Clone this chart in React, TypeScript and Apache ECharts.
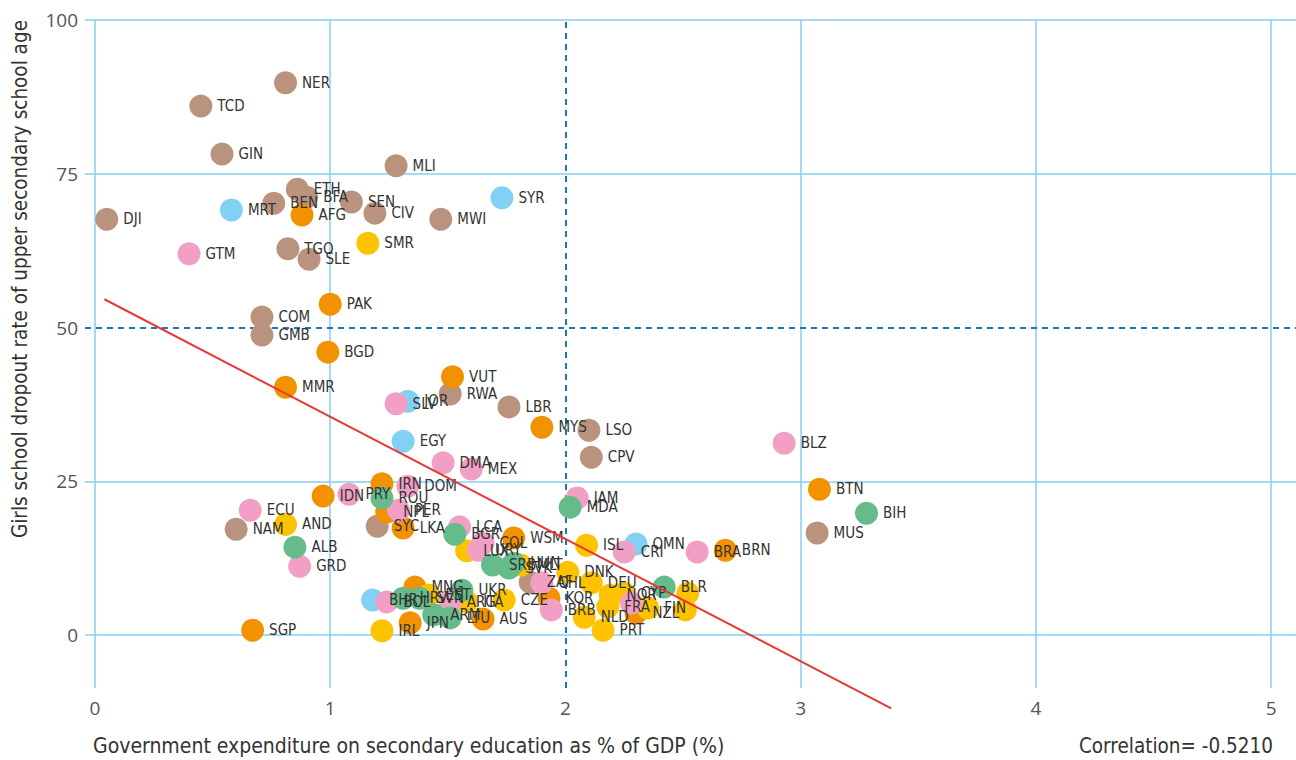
import React, { useEffect, useRef } from 'react';
import * as echarts from 'echarts';

// ---- Data ----
const xTicks = [0, 1, 2, 3, 4, 5];
const yTicks = [0, 25, 50, 75, 100];
const xTitle = 'Government expenditure on secondary education as % of GDP (%)';
const yTitle = 'Girls school dropout rate of upper secondary school age';
const correlationText = 'Correlation= -0.5210';

// [x: expenditure % GDP, y: dropout rate, country code]
const subSaharanAfrica = [
  [0.81, 89.8, 'NER'], [0.45, 86.0, 'TCD'], [0.54, 78.2, 'GIN'], [1.28, 76.3, 'MLI'],
  [0.86, 72.5, 'ETH'], [0.9, 71.2, 'BFA'], [0.76, 70.2, 'BEN'], [1.09, 70.4, 'SEN'],
  [1.19, 68.6, 'CIV'], [1.47, 67.6, 'MWI'], [0.05, 67.6, 'DJI'], [0.82, 62.8, 'TGO'],
  [0.91, 61.1, 'SLE'], [0.71, 51.7, 'COM'], [0.71, 48.8, 'GMB'], [1.51, 39.2, 'RWA'],
  [1.76, 37.1, 'LBR'], [2.1, 33.3, 'LSO'], [2.11, 28.9, 'CPV'], [3.07, 16.6, 'MUS'],
  [0.6, 17.2, 'NAM'], [1.2, 17.7, 'SYC'], [1.85, 8.6, 'ZAF'],
];
const arabStates = [
  [0.58, 69.1, 'MRT'], [1.73, 71.1, 'SYR'], [1.33, 38.0, 'JOR'], [1.31, 31.5, 'EGY'],
  [2.3, 14.8, 'OMN'], [1.18, 5.7, 'BHR'],
];
const asiaPacific = [
  [0.88, 68.3, 'AFG'], [1.0, 53.8, 'PAK'], [0.99, 46.0, 'BGD'], [0.81, 40.3, 'MMR'],
  [1.52, 42.0, 'VUT'], [1.9, 33.8, 'MYS'], [3.08, 23.7, 'BTN'], [2.68, 13.8, 'BRN'],
  [0.97, 22.6, 'IDN'], [1.22, 24.6, 'IRN'], [1.24, 20.0, 'NPL'], [1.31, 17.4, 'LKA'],
  [1.78, 15.8, 'WSM'], [0.67, 0.8, 'SGP'], [1.36, 7.8, 'MNG'], [1.34, 2.0, 'JPN'],
  [1.65, 2.6, 'AUS'], [1.93, 6.0, 'KOR'], [2.3, 3.6, 'NZL'],
];
const europeNorthAmerica = [
  [1.16, 63.7, 'SMR'], [0.81, 18.0, 'AND'], [1.58, 13.7, 'LUX'], [2.09, 14.6, 'ISL'],
  [1.22, 0.7, 'IRL'], [1.42, 6.5, 'EST'], [1.58, 5.4, 'ITA'], [1.74, 5.7, 'CZE'],
  [1.81, 11.4, 'MLT'], [2.01, 10.2, 'DNK'], [2.11, 8.5, 'DEU'], [2.19, 6.5, 'NOR'],
  [2.25, 6.8, 'CYP'], [2.08, 2.9, 'NLD'], [2.16, 0.8, 'PRT'], [2.18, 4.6, 'FRA'],
  [2.35, 4.4, 'FIN'], [2.52, 6.8, 'USA'], [2.51, 4.1, 'CAN'],
];
const latinAmerica = [
  [0.4, 62.0, 'GTM'], [1.28, 37.6, 'SLV'], [1.48, 28.0, 'DMA'], [1.6, 27.0, 'MEX'],
  [2.93, 31.2, 'BLZ'], [0.66, 20.3, 'ECU'], [0.87, 11.2, 'GRD'], [1.08, 22.9, 'PRY'],
  [1.33, 24.2, 'DOM'], [1.29, 20.3, 'PER'], [2.05, 22.3, 'JAM'], [1.55, 17.6, 'LCA'],
  [1.65, 15.0, 'COL'], [1.63, 13.8, 'URY'], [2.25, 13.5, 'CRI'], [2.56, 13.5, 'BRA'],
  [1.24, 5.4, 'BOL'], [1.51, 5.4, 'ARG'], [1.9, 8.5, 'CHL'], [1.94, 4.1, 'BRB'],
  [2.28, 5.2, 'PAN'],
];
const centralEasternEurope = [
  [3.28, 19.8, 'BIH'], [2.02, 20.8, 'MDA'], [1.22, 22.3, 'ROU'], [0.85, 14.3, 'ALB'],
  [1.53, 16.4, 'BGR'], [1.69, 11.4, 'SRB'], [1.78, 11.7, 'HUN'], [1.31, 6.0, 'HRV'],
  [1.38, 6.0, 'SVN'], [1.44, 3.3, 'ARM'], [1.51, 2.8, 'LTU'], [1.56, 7.3, 'UKR'],
  [1.76, 10.9, 'SVK'], [2.42, 7.8, 'BLR'],
];
// countries whose labels are not shown in the reference (hidden under the cluster)
const unlabeled = ['USA', 'CAN', 'PAN'];
// fitted trend line end points
const trendX = [0.04, 3.385];
const trendY = [54.6, -11.9];

// ---- Styles ----
const FONT = "'Liberation Sans Narrow', 'DejaVu Sans Condensed', 'Open Sans', sans-serif";
const NUMFONT = "'Open Sans', 'Noto Sans', sans-serif";
const GRID_COLOR = '#84cff2';
const GUIDE_COLOR = '#1a76bd';

const groups = [
  { name: 'Sub-Saharan Africa', data: subSaharanAfrica, color: '#b9937d' },
  { name: 'Arab States', data: arabStates, color: '#82d0f4' },
  { name: 'Asia Pacific', data: asiaPacific, color: '#f39200' },
  { name: 'Europe and North America', data: europeNorthAmerica, color: '#fdc300' },
  { name: 'Latin America', data: latinAmerica, color: '#f29fc6' },
  { name: 'Central and Eastern Europe', data: centralEasternEurope, color: '#66bb8b' },
];

export default function App() {
  const ref = useRef<HTMLDivElement>(null);
  useEffect(() => {
    document.body.style.margin = '0';
    const chart = echarts.init(ref.current as HTMLDivElement, null, { renderer: 'svg' });
    const lineColorsX = xTicks.map((v) => (v === 2 ? 'rgba(0,0,0,0)' : GRID_COLOR));
    const lineColorsY = yTicks.map((v) => (v === 50 ? 'rgba(0,0,0,0)' : GRID_COLOR));
    const scatterSeries = groups.map((g) => ({
      type: 'scatter',
      name: g.name,
      data: g.data,
      symbolSize: 23,
      z: 3,
      itemStyle: { color: g.color, opacity: 1 },
      label: {
        show: true,
        position: 'right',
        distance: 5,
        formatter: (p: any) => (unlabeled.indexOf(p.value[2]) >= 0 ? '' : p.value[2]),
        color: '#333',
        fontSize: 15,
        fontFamily: FONT,
      },
      emphasis: { disabled: true },
    }));
    chart.setOption({
      animation: false,
      backgroundColor: '#fff',
      grid: { left: 85, right: 0, top: 20, bottom: 72, outerBoundsMode: 'none', containLabel: false },
      xAxis: {
        type: 'value',
        min: -0.0425,
        max: 5.106,
        axisLine: { show: false },
        axisTick: { show: false, customValues: xTicks },
        axisLabel: {
          customValues: xTicks,
          margin: 10,
          color: '#555',
          fontSize: 19,
          fontFamily: NUMFONT,
        },
        splitLine: { show: true, lineStyle: { color: lineColorsX, width: 1.5 } },
      },
      yAxis: {
        type: 'value',
        min: -8.6,
        max: 100,
        axisLine: { show: false },
        axisTick: { show: false, customValues: yTicks },
        axisLabel: {
          customValues: yTicks,
          margin: 7,
          color: '#555',
          fontSize: 19,
          fontFamily: NUMFONT,
        },
        splitLine: { show: true, lineStyle: { color: lineColorsY, width: 1.5 } },
      },
      series: [
        {
          type: 'scatter',
          name: 'guides',
          data: [],
          z: 1,
          silent: true,
          markLine: {
            silent: true,
            z: 1,
            symbol: ['none', 'none'],
            label: { show: false },
            lineStyle: { color: GUIDE_COLOR, type: [6, 5], width: 2 },
            data: [{ xAxis: 2 }, { yAxis: 50 }],
          },
        },
        ...scatterSeries,
        {
          type: 'line',
          name: 'trend',
          data: trendX.map((x, i) => [x, trendY[i]]),
          clip: false,
          z: 5,
          symbol: 'none',
          silent: true,
          lineStyle: { color: '#e53935', width: 2 },
        },
      ],
      graphic: [
        {
          type: 'text',
          x: 20,
          y: 20,
          rotation: Math.PI / 2,
          style: {
            text: yTitle,
            fill: '#333',
            fontSize: 20.5,
            fontFamily: FONT,
            align: 'right',
            verticalAlign: 'middle',
          },
        },
        {
          type: 'text',
          x: 93,
          y: 746,
          style: {
            text: xTitle,
            fill: '#333',
            fontSize: 21,
            fontFamily: FONT,
            align: 'left',
            verticalAlign: 'middle',
          },
        },
        {
          type: 'text',
          x: 1273,
          y: 746,
          style: {
            text: correlationText,
            fill: '#333',
            fontSize: 20.5,
            fontFamily: FONT,
            align: 'right',
            verticalAlign: 'middle',
          },
        },
      ],
    });
    return () => chart.dispose();
  }, []);
  return <div ref={ref} style={{ width: 1296, height: 760 }} />;
}
